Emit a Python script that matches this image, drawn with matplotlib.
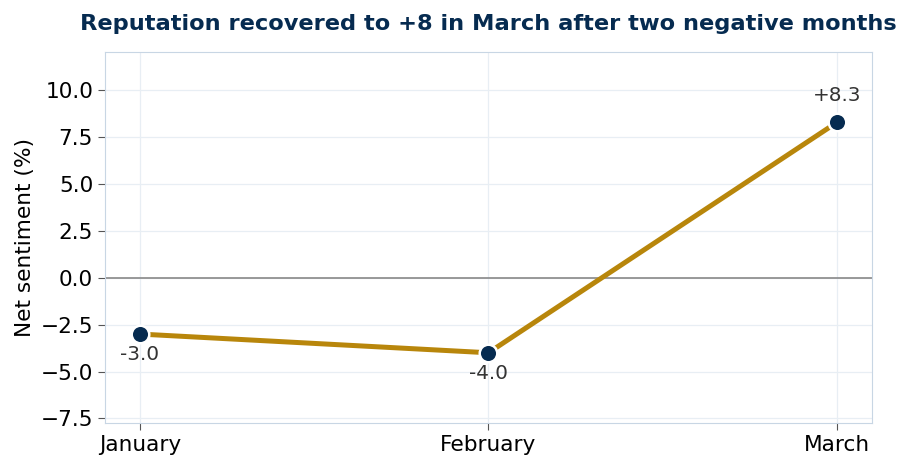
import matplotlib
matplotlib.use('Agg')
import matplotlib.pyplot as plt

# data
months = ['January', 'February', 'March']
net_sentiment = [-3.0, -4.0, 8.3]
point_labels = ['-3.0', '-4.0', '+8.3']

fig, ax = plt.subplots(figsize=(9.12, 4.69), dpi=100)
x = list(range(len(months)))

ax.axhline(0, color='#888888', linewidth=1.2, zorder=1)
ax.plot(x, net_sentiment, color='#b8860b', linewidth=3.6, zorder=2)
ax.scatter(x, net_sentiment, s=160, color='#062b50', edgecolors='white',
           linewidths=1.8, zorder=3)

for xi, v, lab in zip(x, net_sentiment, point_labels):
    off = 19 if v > 0 else -15
    ax.annotate(lab, (xi, v), xytext=(0, off), textcoords='offset points',
                ha='center', va='center', fontsize=14.4, color='#333333')

ax.set_xticks(x)
ax.set_xticklabels(months)
ax.set_xlim(-0.1, 2.1)
ax.set_ylim(-7.75, 12.05)
ax.set_yticks([-7.5, -5.0, -2.5, 0.0, 2.5, 5.0, 7.5, 10.0])
ax.tick_params(labelsize=15.6, length=5, color='#555555')
ax.set_ylabel('Net sentiment (%)', fontsize=15.6)
ax.grid(True, color='#e8eef4', linewidth=0.9, zorder=0)
ax.set_axisbelow(True)
for s in ax.spines.values():
    s.set_color('#c8d6e4')

ax.set_title('Reputation recovered to +8 in March after two negative months',
             fontsize=16.2, fontweight='bold', color='#062b50', pad=16)

plt.subplots_adjust(left=0.115, right=0.956, top=0.889, bottom=0.098)
fig.savefig('out.png', dpi=100)
